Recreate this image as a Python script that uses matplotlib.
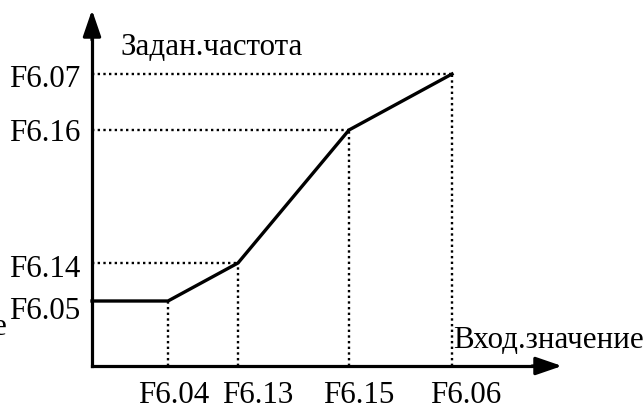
import matplotlib
matplotlib.use("Agg")
import matplotlib.pyplot as plt

# Curve break points (arbitrary units, origin at the axes crossing)
x_pts = [0.0, 7.6, 14.6, 25.7, 36.0]
y_pts = [6.5, 6.5, 10.3, 23.6, 29.2]

# Parameter labels
x_labels = ["F6.04", "F6.13", "F6.15", "F6.06"]   # for points 1..4
y_labels = ["F6.05", "F6.14", "F6.16", "F6.07"]   # for points 0,2,3,4
y_label_idx = [0, 2, 3, 4]

y_title = "Задан.частота"
x_title = "Вход.значение"

# layout offsets (label placement only)
x_label_dx = [0.6, 2.0, 1.0, 1.4]
y_label_dy = [-1.7, -1.3, -1.0, -1.2]

FONT = "Liberation Serif"
FS = 22.3

fig = plt.figure(figsize=(6.44, 4.10), dpi=100)
ax = fig.add_axes([0, 0, 1, 1])
ax.set_xlim(-9.2, 55.2)
ax.set_ylim(-4.3, 36.7)
ax.axis("off")

x_end = 47.0
y_end = 35.4
lw_axis = 2.3

# axes with arrows
ax.plot([0, x_end - 2.0], [0, 0], color="black", lw=lw_axis, solid_capstyle="projecting")
ax.plot([0, 0], [0, y_end - 2.0], color="black", lw=lw_axis, solid_capstyle="projecting")
arrow_style = "-|>,head_length=1.6,head_width=0.55"
ax.annotate("", xy=(x_end, 0), xytext=(x_end - 3.0, 0),
            arrowprops=dict(arrowstyle=arrow_style, mutation_scale=10, lw=lw_axis,
                            color="black", shrinkA=0, shrinkB=0))
ax.annotate("", xy=(0, y_end + 0.2), xytext=(0, y_end - 2.8),
            arrowprops=dict(arrowstyle=arrow_style, mutation_scale=10, lw=lw_axis,
                            color="black", shrinkA=0, shrinkB=0))

# dotted guide lines
dots = (0, (1, 1.4))
for i in [2, 3, 4]:
    ax.plot([0, x_pts[i]], [y_pts[i], y_pts[i]], color="black", lw=1.7, linestyle=dots)
for i in [1, 2, 3, 4]:
    ax.plot([x_pts[i], x_pts[i]], [0, y_pts[i]], color="black", lw=1.7, linestyle=dots)

# characteristic curve
ax.plot(x_pts, y_pts, color="black", lw=2.4, solid_joinstyle="miter")

# tick-like labels
for k, i in enumerate(y_label_idx):
    ax.text(-1.2, y_pts[i] + y_label_dy[k], y_labels[k], ha="right", va="baseline",
            fontsize=FS, family=FONT)
for k, i in enumerate([1, 2, 3, 4]):
    ax.text(x_pts[i] + x_label_dx[k], -3.6, x_labels[k], ha="center", va="baseline",
            fontsize=FS, family=FONT)

ax.text(2.8, 31.2, y_title, ha="left", va="baseline", fontsize=FS, family=FONT)
ax.text(36.1, 1.9, x_title, ha="left", va="baseline", fontsize=FS, family=FONT)
ax.text(-8.5, 3.2, "е", ha="right", va="baseline", fontsize=FS, family=FONT)

fig.savefig("out.png", dpi=100)
